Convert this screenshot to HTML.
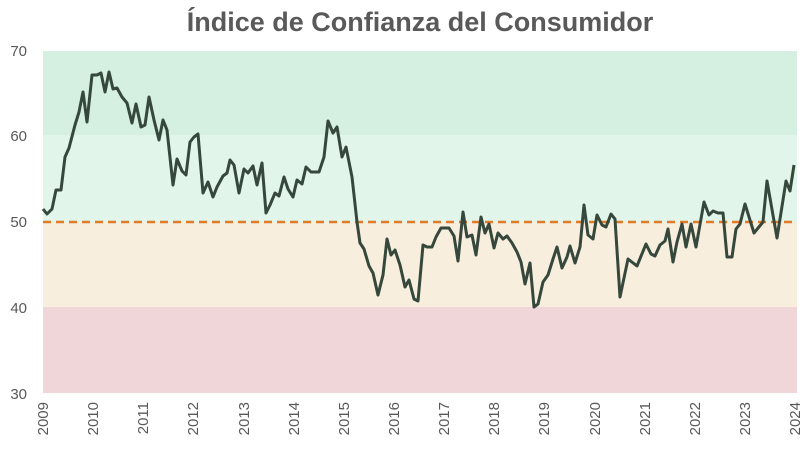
<!DOCTYPE html>
<html><head><meta charset="utf-8"><style>
body{margin:0;background:#fff;}
svg{display:block;font-family:"Liberation Sans",sans-serif;}
</style></head><body>
<svg width="800" height="449" viewBox="0 0 800 449">
<text x="420" y="31" text-anchor="middle" font-size="27" font-weight="bold" fill="#595959">Índice de Confianza del Consumidor</text>
<rect x="43" y="51" width="754" height="84" fill="#d5efe0"/>
<rect x="43" y="135" width="754" height="87" fill="#e2f5ea"/>
<rect x="43" y="222" width="754" height="85" fill="#f7eedd"/>
<rect x="43" y="307" width="754" height="86" fill="#f0d6d8"/>
<g font-size="15" fill="#595959" text-anchor="end">
<text x="27" y="56">70</text><text x="27" y="141">60</text><text x="27" y="227">50</text><text x="27" y="313">40</text><text x="27" y="399">30</text>
</g>
<line x1="43" y1="222" x2="797" y2="222" stroke="#e07b2a" stroke-width="2.5" stroke-dasharray="8,5"/>
<polyline fill="none" stroke="#36473c" stroke-width="3" stroke-linejoin="round" points="43,209 47,214 52,209 56,190 61,190 65,157 69,148 75,125 79,112 83,92 87,122 92,75 97,75 101,73 105,92 109,72 113,89 117,88 122,97 127,103 132,123 136,104 141,127 145,125 149,97 154,120 159,140 163,120 167,130 173,185 177,159 182,171 186,175 190,142 194,137 198,134 203,193 208,182 213,197 217,187 223,176 227,173 230,160 234,165 239,193 244,169 248,173 253,166 257,185 262,163 266,213 270,205 275,193 279,196 284,177 288,189 293,197 297,180 302,184 306,167 311,172 319,172 324,157 328,121 333,133 337,127 342,157 346,147 352,177 357,222 360,243 364,249 369,266 373,273 378,295 383,275 387,239 391,255 395,250 400,265 405,287 409,280 414,299 418,301 423,245 427,247 432,247 436,237 441,228 445,228 449,228 454,236 458,261 463,212 467,237 472,235 476,255 481,217 485,233 489,224 494,248 498,233 503,239 507,236 512,243 517,252 521,262 525,284 530,263 534,307 538,304 543,282 548,275 553,259 557,247 562,268 567,257 570,246 575,263 580,247 584,205 588,235 593,239 597,215 602,225 606,227 611,214 615,219 620,297 628,259 637,266 646,244 651,254 655,256 660,245 665,241 668,229 673,262 677,242 682,224 686,247 691,224 696,247 704,202 709,215 713,211 718,213 723,213 727,257 732,257 736,229 740,224 745,204 754,233 763,222 767,181 777,238 786,181 790,191 794,165"/>
<g font-size="15" fill="#595959" text-anchor="end">
<text transform="translate(48,402) rotate(-90)">2009</text>
<text transform="translate(98,402) rotate(-90)">2010</text>
<text transform="translate(148,402) rotate(-90)">2011</text>
<text transform="translate(198,402) rotate(-90)">2012</text>
<text transform="translate(249,402) rotate(-90)">2013</text>
<text transform="translate(299,402) rotate(-90)">2014</text>
<text transform="translate(349,402) rotate(-90)">2015</text>
<text transform="translate(399,402) rotate(-90)">2016</text>
<text transform="translate(449,402) rotate(-90)">2017</text>
<text transform="translate(499,402) rotate(-90)">2018</text>
<text transform="translate(549,402) rotate(-90)">2019</text>
<text transform="translate(600,402) rotate(-90)">2020</text>
<text transform="translate(650,402) rotate(-90)">2021</text>
<text transform="translate(700,402) rotate(-90)">2022</text>
<text transform="translate(750,402) rotate(-90)">2023</text>
<text transform="translate(800,402) rotate(-90)">2024</text>
</g>
</svg>
</body></html>
